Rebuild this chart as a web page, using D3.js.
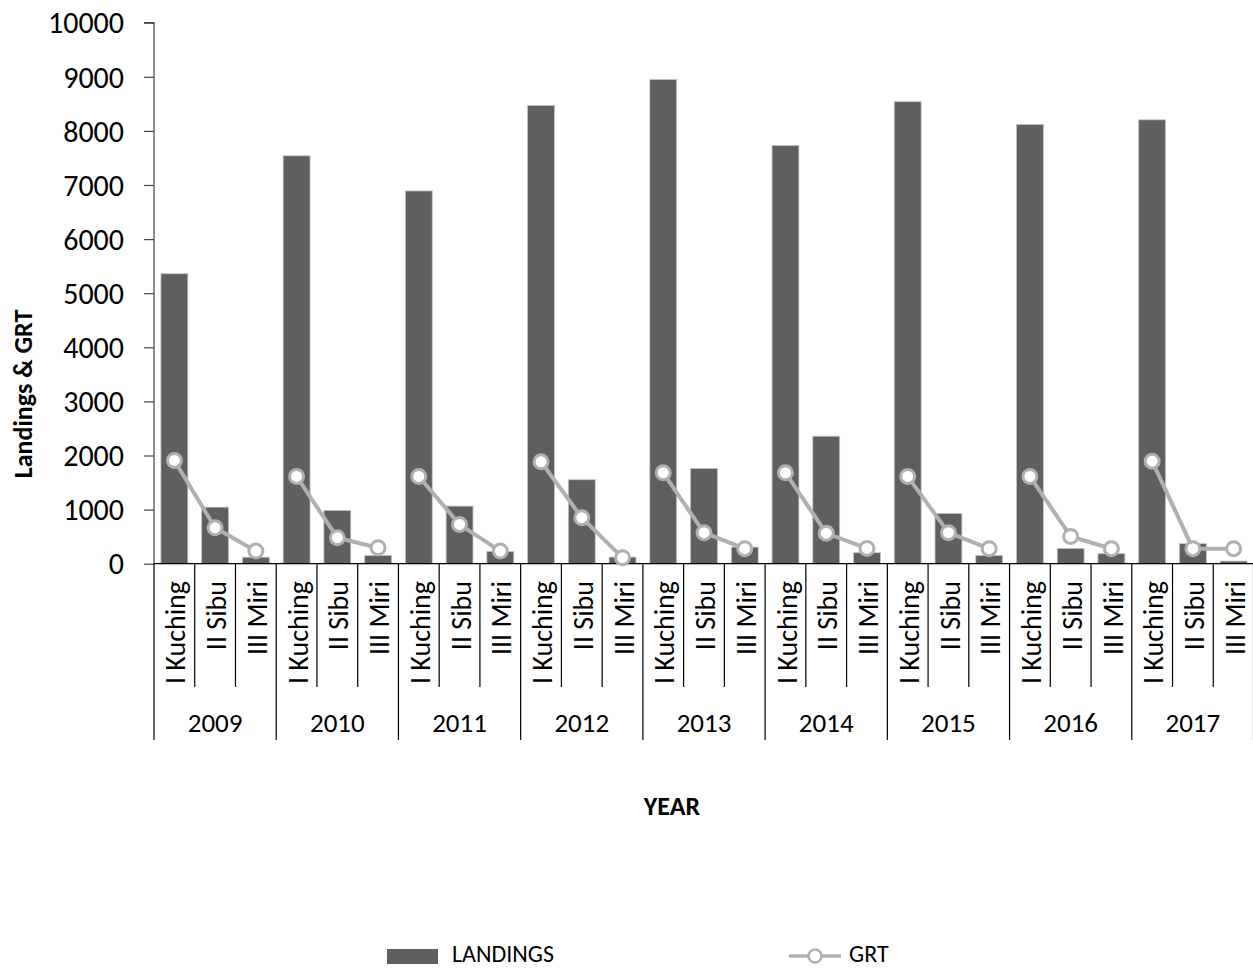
<!DOCTYPE html>
<html>
<head>
<meta charset="utf-8">
<script src="https://cdn.jsdelivr.net/npm/d3@7/dist/d3.min.js"></script>
<style>
  html, body { margin: 0; padding: 0; background: #fff; }
  svg { display: block; font-family: Carlito, Lato, "Open Sans", sans-serif; }
</style>
</head>
<body>
<svg id="chart" width="1253" height="970"></svg>
<script>
// Years and ports (each year holds one bar per port)
const years = ["2009", "2010", "2011", "2012", "2013", "2014", "2015", "2016", "2017"];
const ports = ["I Kuching", "II Sibu", "III Miri"];

// Landings per port, one row per year
const landings = [
  [5360, 1045, 120],
  [7540, 985, 153],
  [6890, 1065, 227],
  [8470, 1552, 122],
  [8950, 1760, 307],
  [7730, 2357, 203],
  [8540, 929, 153],
  [8120, 283, 185],
  [8205, 370, 48]
];

// GRT per port, one row per year
const grt = [
  [1908, 665, 233],
  [1613, 480, 296],
  [1613, 726, 233],
  [1884, 850, 111],
  [1681, 573, 277],
  [1681, 565, 283],
  [1613, 573, 277],
  [1613, 504, 277],
  [1895, 277, 277]
];

const yTicks = [0, 1000, 2000, 3000, 4000, 5000, 6000, 7000, 8000, 9000, 10000];

const svg = d3.select("#chart");
const plotLeft = 154, plotRight = 1254, plotTop = 22.7, plotBottom = 563.7;

// one slot per (year, port)
const keys = [];
years.forEach(yr => ports.forEach(p => keys.push(yr + "|" + p)));

const x = d3.scaleBand().domain(keys).range([plotLeft, plotRight])
  .paddingInner(0.34).paddingOuter(0.17);
const y = d3.scaleLinear().domain([0, 10000]).range([plotBottom, plotTop]);
const step = x.step();

// bars
const barData = [];
years.forEach((yr, i) => ports.forEach((p, j) => barData.push({ key: yr + "|" + p, v: landings[i][j] })));
svg.append("g").selectAll("rect").data(barData).join("rect")
  .attr("x", d => x(d.key))
  .attr("y", d => y(d.v))
  .attr("width", x.bandwidth())
  .attr("height", d => y(0) - y(d.v))
  .attr("fill", "#5f5f5f")
  .attr("stroke", "#c4c4c4")
  .attr("stroke-width", 0.8);

// y axis
const yAxis = d3.axisLeft(y).tickValues(yTicks).tickSize(10).tickPadding(20).tickFormat(d3.format("d"));
const gy = svg.append("g").attr("transform", `translate(${plotLeft},0)`).call(yAxis);
gy.select(".domain").attr("stroke", "#444").attr("stroke-width", 1.2).attr("d", `M-10,${plotTop}H0V${plotBottom}`);
gy.selectAll(".tick line").attr("stroke", "#444").attr("stroke-width", 1.2);
gy.selectAll(".tick text").attr("font-size", 30).attr("fill", "#000")
  .attr("font-family", "Carlito, Lato, sans-serif").attr("dy", "0.34em");

// x baseline
svg.append("line").attr("x1", plotLeft).attr("x2", plotRight).attr("y1", plotBottom).attr("y2", plotBottom)
  .attr("stroke", "#000").attr("stroke-width", 1.2);

// port separators and labels
const gx = svg.append("g");
keys.forEach((k, i) => {
  const x0 = plotLeft + i * step;
  const isGroupStart = i % 3 === 0;
  gx.append("line")
    .attr("x1", x0).attr("x2", x0)
    .attr("y1", plotBottom).attr("y2", isGroupStart ? 740 : 687)
    .attr("stroke", "#000").attr("stroke-width", 1.2);
});
gx.append("line").attr("x1", plotRight - 0.5).attr("x2", plotRight - 0.5).attr("y1", plotBottom).attr("y2", 740)
  .attr("stroke", "#000").attr("stroke-width", 1.2);

gx.selectAll("text.port").data(keys).join("text")
  .attr("class", "port")
  .attr("transform", d => `translate(${x(d) + x.bandwidth() / 2 + 1},581) rotate(-90)`)
  .attr("text-anchor", "end")
  .attr("dy", "0.36em")
  .attr("font-size", 28)
  .attr("fill", "#000")
  .text(d => d.split("|")[1]);

gx.selectAll("text.year").data(years).join("text")
  .attr("class", "year")
  .attr("x", (d, i) => plotLeft + (i * 3 + 1.5) * step)
  .attr("y", 723)
  .attr("dy", "0.35em")
  .attr("text-anchor", "middle")
  .attr("font-size", 27)
  .attr("fill", "#000")
  .text(d => d);

// GRT lines, one per year
const line = d3.line().x(d => x(d.key) + x.bandwidth() / 2).y(d => y(d.v));
const grtGroups = years.map((yr, i) => ports.map((p, j) => ({ key: yr + "|" + p, v: grt[i][j] })));
svg.append("g").selectAll("path").data(grtGroups).join("path")
  .attr("d", line)
  .attr("fill", "none")
  .attr("stroke", "#b0b0b0")
  .attr("stroke-width", 4);
svg.append("g").selectAll("circle").data(grtGroups.flat()).join("circle")
  .attr("cx", d => x(d.key) + x.bandwidth() / 2)
  .attr("cy", d => y(d.v))
  .attr("r", 7)
  .attr("fill", "#fff")
  .attr("stroke", "#b0b0b0")
  .attr("stroke-width", 3);

// axis titles
svg.append("text")
  .attr("transform", "translate(23,394) rotate(-90)")
  .attr("text-anchor", "middle")
  .attr("dy", "0.35em")
  .attr("font-size", 26)
  .attr("font-weight", "bold")
  .attr("fill", "#000")
  .text("Landings & GRT");

svg.append("text")
  .attr("x", 672).attr("y", 806)
  .attr("dy", "0.35em")
  .attr("text-anchor", "middle")
  .attr("font-size", 26)
  .attr("font-weight", "bold")
  .attr("fill", "#000")
  .text("YEAR");

// legend
const lg = svg.append("g");
lg.append("rect").attr("x", 387).attr("y", 949).attr("width", 51).attr("height", 15).attr("fill", "#5f5f5f");
lg.append("text").attr("x", 452).attr("y", 962).attr("font-size", 24).attr("fill", "#000").text("LANDINGS");
lg.append("line").attr("x1", 789).attr("x2", 841).attr("y1", 956).attr("y2", 956).attr("stroke", "#b0b0b0").attr("stroke-width", 3.5);
lg.append("circle").attr("cx", 815).attr("cy", 956).attr("r", 6.5).attr("fill", "#fff").attr("stroke", "#b0b0b0").attr("stroke-width", 2.5);
lg.append("text").attr("x", 849).attr("y", 962).attr("font-size", 24).attr("fill", "#000").text("GRT");
</script>
</body>
</html>
